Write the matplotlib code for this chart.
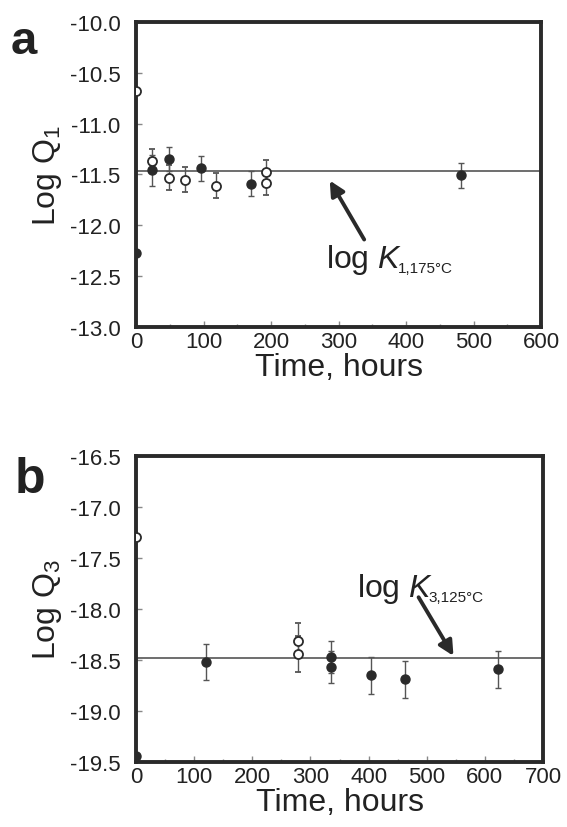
import matplotlib
matplotlib.use("Agg")
import matplotlib.pyplot as plt
from matplotlib.ticker import MultipleLocator, FormatStrFormatter

plt.rcParams['font.family'] = ['Liberation Sans', 'DejaVu Sans']
plt.rcParams['mathtext.fontset'] = 'custom'
plt.rcParams['mathtext.rm'] = 'Liberation Sans'
plt.rcParams['mathtext.it'] = 'Liberation Sans:italic'

# Panel a data
a_filled_t = [0, 23, 49, 96, 170, 482]
a_filled_v = [-12.27, -11.46, -11.35, -11.44, -11.59, -11.51]
a_filled_err = [0, 0.15, 0.12, 0.12, 0.12, 0.12]
a_open_t = [0, 23, 49, 73, 118, 193, 193]
a_open_v = [-10.68, -11.37, -11.53, -11.55, -11.61, -11.48, -11.58]
a_open_err = [0, 0.12, 0.12, 0.12, 0.12, 0.12, 0.12]
a_logK = -11.47

# Panel b data
b_filled_t = [0, 120, 336, 336, 404, 463, 623]
b_filled_v = [-19.44, -18.52, -18.47, -18.57, -18.65, -18.69, -18.59]
b_filled_err = [0, 0.18, 0.16, 0.16, 0.18, 0.18, 0.18]
b_open_t = [0, 278, 278]
b_open_v = [-17.29, -18.31, -18.44]
b_open_err = [0, 0.17, 0.18]
b_logK = -18.48

dark = '#2a2a2a'

fig = plt.figure(figsize=(5.67, 8.28), dpi=100)
axa = fig.add_axes([0.2399, 0.6039, 0.7143, 0.3684])
axb = fig.add_axes([0.2399, 0.0785, 0.7178, 0.3696])


def style(ax, xmax, ymin, ymax):
    ax.set_xlim(0, xmax)
    ax.set_ylim(ymin, ymax)
    ax.xaxis.set_major_locator(MultipleLocator(100))
    ax.xaxis.set_minor_locator(MultipleLocator(50))
    ax.yaxis.set_major_locator(MultipleLocator(0.5))
    ax.yaxis.set_major_formatter(FormatStrFormatter('%.1f'))
    for s in ax.spines.values():
        s.set_linewidth(2.8)
        s.set_color(dark)
    ax.tick_params(direction='in', which='major', length=4, width=1, color='#888888',
                   labelsize=16, pad=3, labelcolor='#222222')
    ax.tick_params(axis='y', which='major', pad=11)
    ax.tick_params(direction='in', which='minor', length=2.5, width=1, color='#888888')
    ax.set_xlabel('Time, hours', fontsize=23, labelpad=0, color='#222222')


def plot_pts(ax, ft, fv, fe, ot, ov, oe, logK):
    ax.axhline(logK, color='#555555', lw=1.2, zorder=1)
    ax.errorbar(ft, fv, yerr=fe, fmt='o', ms=6.5, mfc=dark, mec=dark, ecolor='#555555',
                elinewidth=1, capsize=2.5, capthick=1, zorder=3, clip_on=True)
    ax.errorbar(ot, ov, yerr=oe, fmt='o', ms=6.5, mfc='white', mec=dark, mew=1.3,
                ecolor='#555555', elinewidth=1, capsize=2.5, capthick=1, zorder=3, clip_on=True)


def label_K(ax, x, y, sub):
    t = ax.text(x, y, r'log $\mathit{K}$', fontsize=23, ha='left', va='baseline',
                color='#222222')
    ax.annotate(sub, xy=(1, 0), xycoords=t, xytext=(-3.5, 0.5), textcoords='offset points',
                fontsize=11, ha='left', va='bottom', color='#222222')


style(axa, 600, -13.0, -10.0)
plot_pts(axa, a_filled_t, a_filled_v, a_filled_err, a_open_t, a_open_v, a_open_err, a_logK)
axa.set_ylabel('Log Q$_1$', fontsize=23, labelpad=4, color='#222222')
axa.annotate('', xy=(287, -11.56), xytext=(338, -12.14),
             arrowprops=dict(arrowstyle='-|>', lw=2.8, color=dark, mutation_scale=22,
                             shrinkA=0, shrinkB=0))
label_K(axa, 282, -12.41, '1,175°C')

style(axb, 700, -19.5, -16.5)
plot_pts(axb, b_filled_t, b_filled_v, b_filled_err, b_open_t, b_open_v, b_open_err, b_logK)
axb.set_ylabel('Log Q$_3$', fontsize=23, labelpad=4, color='#222222')
axb.annotate('', xy=(546, -18.46), xytext=(486, -17.885),
             arrowprops=dict(arrowstyle='-|>', lw=2.8, color=dark, mutation_scale=22,
                             shrinkA=0, shrinkB=0))
label_K(axb, 380, -17.87, '3,125°C')

fig.text(24 / 567, 1 - 42 / 828, 'a', fontsize=34, fontweight='bold', ha='center',
         va='center', color='#222222')
fig.text(30 / 567, 1 - 480 / 828, 'b', fontsize=36, fontweight='bold', ha='center',
         va='center', color='#222222')

fig.savefig('out.png', dpi=100)
